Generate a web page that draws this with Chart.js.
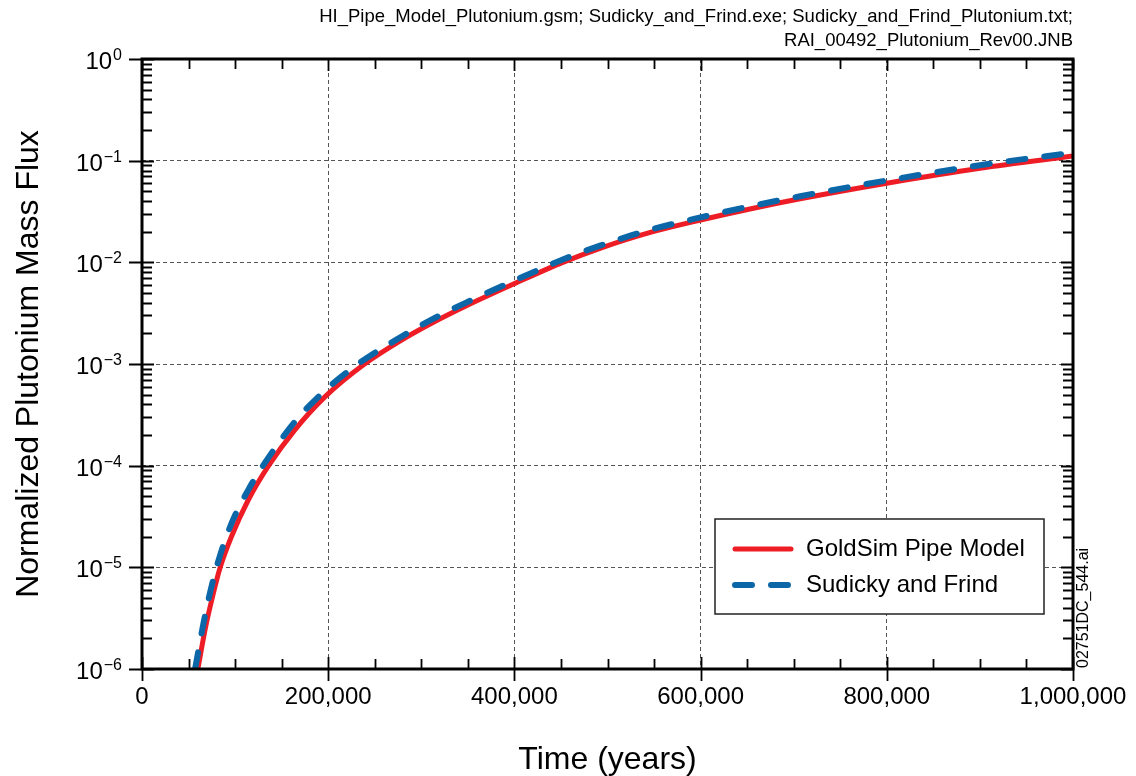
<!DOCTYPE html>
<html>
<head>
<meta charset="utf-8">
<title>Normalized Plutonium Mass Flux</title>
<script src="https://cdn.jsdelivr.net/npm/chart.js@4.4.1/dist/chart.umd.min.js"></script>
<style>
    body {
        margin: 0;
        padding: 0;
        background-color: #fff;
        overflow: hidden;
    }
    #wrap {
        position: relative;
        width: 1136px;
        height: 776px;
    }
</style>
</head>
<body>
<div id="wrap">
    <canvas id="myChart" width="1136" height="776"></canvas>
</div>
<script>
// values (years, normalized flux)
const goldsimTime = [60000, 68000, 76000, 84000, 96000, 114000, 136000, 164000, 197000, 239000, 277000,
    313000, 349000, 400000, 452000, 492000, 546000, 600000, 653000, 707000, 800000, 900000, 1000000];
const goldsimFlux = [1.0e-6, 2.5e-6, 5.25e-6, 1.0e-5, 2.0e-5, 4.57e-5, 1.0e-4, 2.24e-4, 4.8e-4, 1.0e-3, 1.68e-3,
    2.57e-3, 3.76e-3, 6.17e-3, 1.0e-2, 1.375e-2, 1.97e-2, 2.61e-2, 3.35e-2, 4.22e-2, 6.0e-2, 8.41e-2, 0.111];

const sudickyTime = [57000, 68000, 80000, 96000, 114000, 130000, 164000, 197000, 232000, 277000,
    313000, 349000, 400000, 452000, 492000, 546000, 600000, 653000, 707000, 800000, 900000, 1000000];
const sudickyFlux = [1.0e-6, 3.47e-6, 1.0e-5, 2.69e-5, 5.75e-5, 1.0e-4, 2.69e-4, 5.53e-4, 1.0e-3, 1.82e-3,
    2.79e-3, 4.05e-3, 6.61e-3, 1.067e-2, 1.46e-2, 2.09e-2, 2.77e-2, 3.55e-2, 4.47e-2, 6.38e-2, 9.02e-2, 0.120];

const xTicks = [0, 200000, 400000, 600000, 800000, 1000000];
const xMinorStep = 50000;
const yTicks = [1e-6, 1e-5, 1e-4, 1e-3, 1e-2, 1e-1, 1];
const yExponents = ['\u22126', '\u22125', '\u22124', '\u22123', '\u22122', '\u22121', '0'];

const headerLines = [
    'HI_Pipe_Model_Plutonium.gsm; Sudicky_and_Frind.exe; Sudicky_and_Frind_Plutonium.txt;',
    'RAI_00492_Plutonium_Rev00.JNB'
];
const fileTag = '02751DC_544.ai';

const FONT = '"Liberation Sans", Arial, Helvetica, sans-serif';

function toPoints(xs, ys) {
    return xs.map((t, i) => ({ x: t, y: ys[i] }));
}

// ticks, frame, superscript labels, legend and header text
const decoPlugin = {
    id: 'deco',
    afterDraw(chart) {
        const ctx = chart.ctx;
        const a = chart.chartArea;
        const x = chart.scales.x;
        const y = chart.scales.y;
        ctx.save();

        // frame
        ctx.strokeStyle = '#000';
        ctx.lineWidth = 3;
        ctx.strokeRect(a.left, a.top, a.right - a.left, a.bottom - a.top);

        // x ticks
        ctx.lineWidth = 1.8;
        ctx.beginPath();
        for (let v = 0; v <= 1000000; v += xMinorStep) {
            const px = Math.round(x.getPixelForValue(v)) + 0.5;
            const major = xTicks.includes(v);
            const len = major ? 12 : 10;
            ctx.moveTo(px, a.bottom + (major ? 12 : 0));
            ctx.lineTo(px, a.bottom - len);
            ctx.moveTo(px, a.top);
            ctx.lineTo(px, a.top + len);
        }
        // y ticks
        for (let i = 0; i < yTicks.length; i++) {
            const d = yTicks[i];
            const py = Math.round(y.getPixelForValue(d)) + 0.5;
            ctx.moveTo(a.left - 13, py);
            ctx.lineTo(a.left + 12, py);
            ctx.moveTo(a.right, py);
            ctx.lineTo(a.right - 12, py);
            if (i < yTicks.length - 1) {
                for (let m = 2; m <= 9; m++) {
                    const pm = Math.round(y.getPixelForValue(m * d)) + 0.5;
                    ctx.moveTo(a.left, pm);
                    ctx.lineTo(a.left + 10, pm);
                    ctx.moveTo(a.right, pm);
                    ctx.lineTo(a.right - 10, pm);
                }
            }
        }
        ctx.stroke();

        // y labels 10^n
        ctx.fillStyle = '#000';
        ctx.textBaseline = 'alphabetic';
        ctx.textAlign = 'right';
        const labelRight = a.left - 20;
        yTicks.forEach((v, i) => {
            const py = y.getPixelForValue(v);
            ctx.font = '16px ' + FONT;
            const ew = ctx.measureText(yExponents[i]).width;
            ctx.fillText(yExponents[i], labelRight, py + 1);
            ctx.font = '24px ' + FONT;
            ctx.fillText('10', labelRight - ew - 1, py + 10);
        });

        // header
        ctx.font = '18.5px ' + FONT;
        ctx.textBaseline = 'middle';
        ctx.fillText(headerLines[0], a.right, 17);
        ctx.fillText(headerLines[1], a.right, 41);

        // file tag (vertical)
        ctx.save();
        ctx.translate(a.right + 11, a.bottom - 1);
        ctx.rotate(-Math.PI / 2);
        ctx.textAlign = 'left';
        ctx.textBaseline = 'middle';
        ctx.font = '16px ' + FONT;
        ctx.fillText(fileTag, 0, 0);
        ctx.restore();

        // legend
        const lx = 715, ly = 519, lw = 329, lh = 95;
        ctx.fillStyle = '#fff';
        ctx.fillRect(lx, ly, lw, lh);
        ctx.strokeStyle = '#222';
        ctx.lineWidth = 1.5;
        ctx.strokeRect(lx, ly, lw, lh);
        chart.data.datasets.forEach((ds, i) => {
            const ry = ly + 30 + i * 36;
            ctx.beginPath();
            ctx.strokeStyle = ds.borderColor;
            ctx.lineWidth = ds.borderWidth;
            ctx.lineCap = 'round';
            ctx.setLineDash(ds.borderDash || []);
            ctx.moveTo(lx + 20, ry);
            ctx.lineTo(lx + 76, ry);
            ctx.stroke();
            ctx.setLineDash([]);
            ctx.fillStyle = '#000';
            ctx.font = '24px ' + FONT;
            ctx.textAlign = 'left';
            ctx.textBaseline = 'middle';
            ctx.fillText(ds.label, lx + 91, ry);
        });

        ctx.restore();
    }
};

const ctx = document.getElementById('myChart').getContext('2d');
const gridStyle = { color: '#555', lineWidth: 1, drawTicks: false };

new Chart(ctx, {
    type: 'line',
    data: {
        datasets: [{
            label: 'GoldSim Pipe Model',
            data: toPoints(goldsimTime, goldsimFlux),
            borderColor: '#ee1d25',
            borderWidth: 5,
            pointRadius: 0,
            cubicInterpolationMode: 'monotone',
            clip: 0,
            order: 1
        }, {
            label: 'Sudicky and Frind',
            data: toPoints(sudickyTime, sudickyFlux),
            borderColor: '#0b67a8',
            borderWidth: 6,
            borderDash: [17, 19],
            borderCapStyle: 'round',
            pointRadius: 0,
            cubicInterpolationMode: 'monotone',
            clip: 0,
            order: 0
        }]
    },
    options: {
        responsive: false,
        animation: false,
        layout: { padding: { left: 0, top: 59, right: 63, bottom: 0 } },
        scales: {
            x: {
                type: 'linear',
                min: 0,
                max: 1000000,
                afterBuildTicks: s => { s.ticks = xTicks.map(v => ({ value: v })); },
                afterFit: s => {
                    s.height = 107;
                    s.paddingLeft = 0;
                    s.paddingRight = 0;
                },
                grid: gridStyle,
                border: { display: false, dash: [4, 3] },
                ticks: {
                    color: '#000',
                    font: { family: FONT, size: 24 },
                    padding: 14,
                    autoSkip: false,
                    maxRotation: 0,
                    callback: v => Number(v).toLocaleString('en-US')
                },
                title: {
                    display: true,
                    text: 'Time (years)',
                    color: '#000',
                    font: { family: FONT, size: 32, lineHeight: 1 },
                    padding: { top: 0, bottom: 0 }
                }
            },
            y: {
                type: 'logarithmic',
                min: 1e-6,
                max: 1,
                afterBuildTicks: s => { s.ticks = yTicks.map(v => ({ value: v })); },
                afterFit: s => { s.width = 142; },
                grid: gridStyle,
                border: { display: false, dash: [4, 3] },
                ticks: { display: false },
                title: {
                    display: true,
                    text: 'Normalized Plutonium Mass Flux',
                    color: '#000',
                    font: { family: FONT, size: 32, lineHeight: 1 },
                    padding: { top: 13, bottom: 0 }
                }
            }
        },
        plugins: {
            legend: { display: false },
            tooltip: { enabled: false }
        }
    },
    plugins: [decoPlugin]
});
</script>
</body>
</html>
